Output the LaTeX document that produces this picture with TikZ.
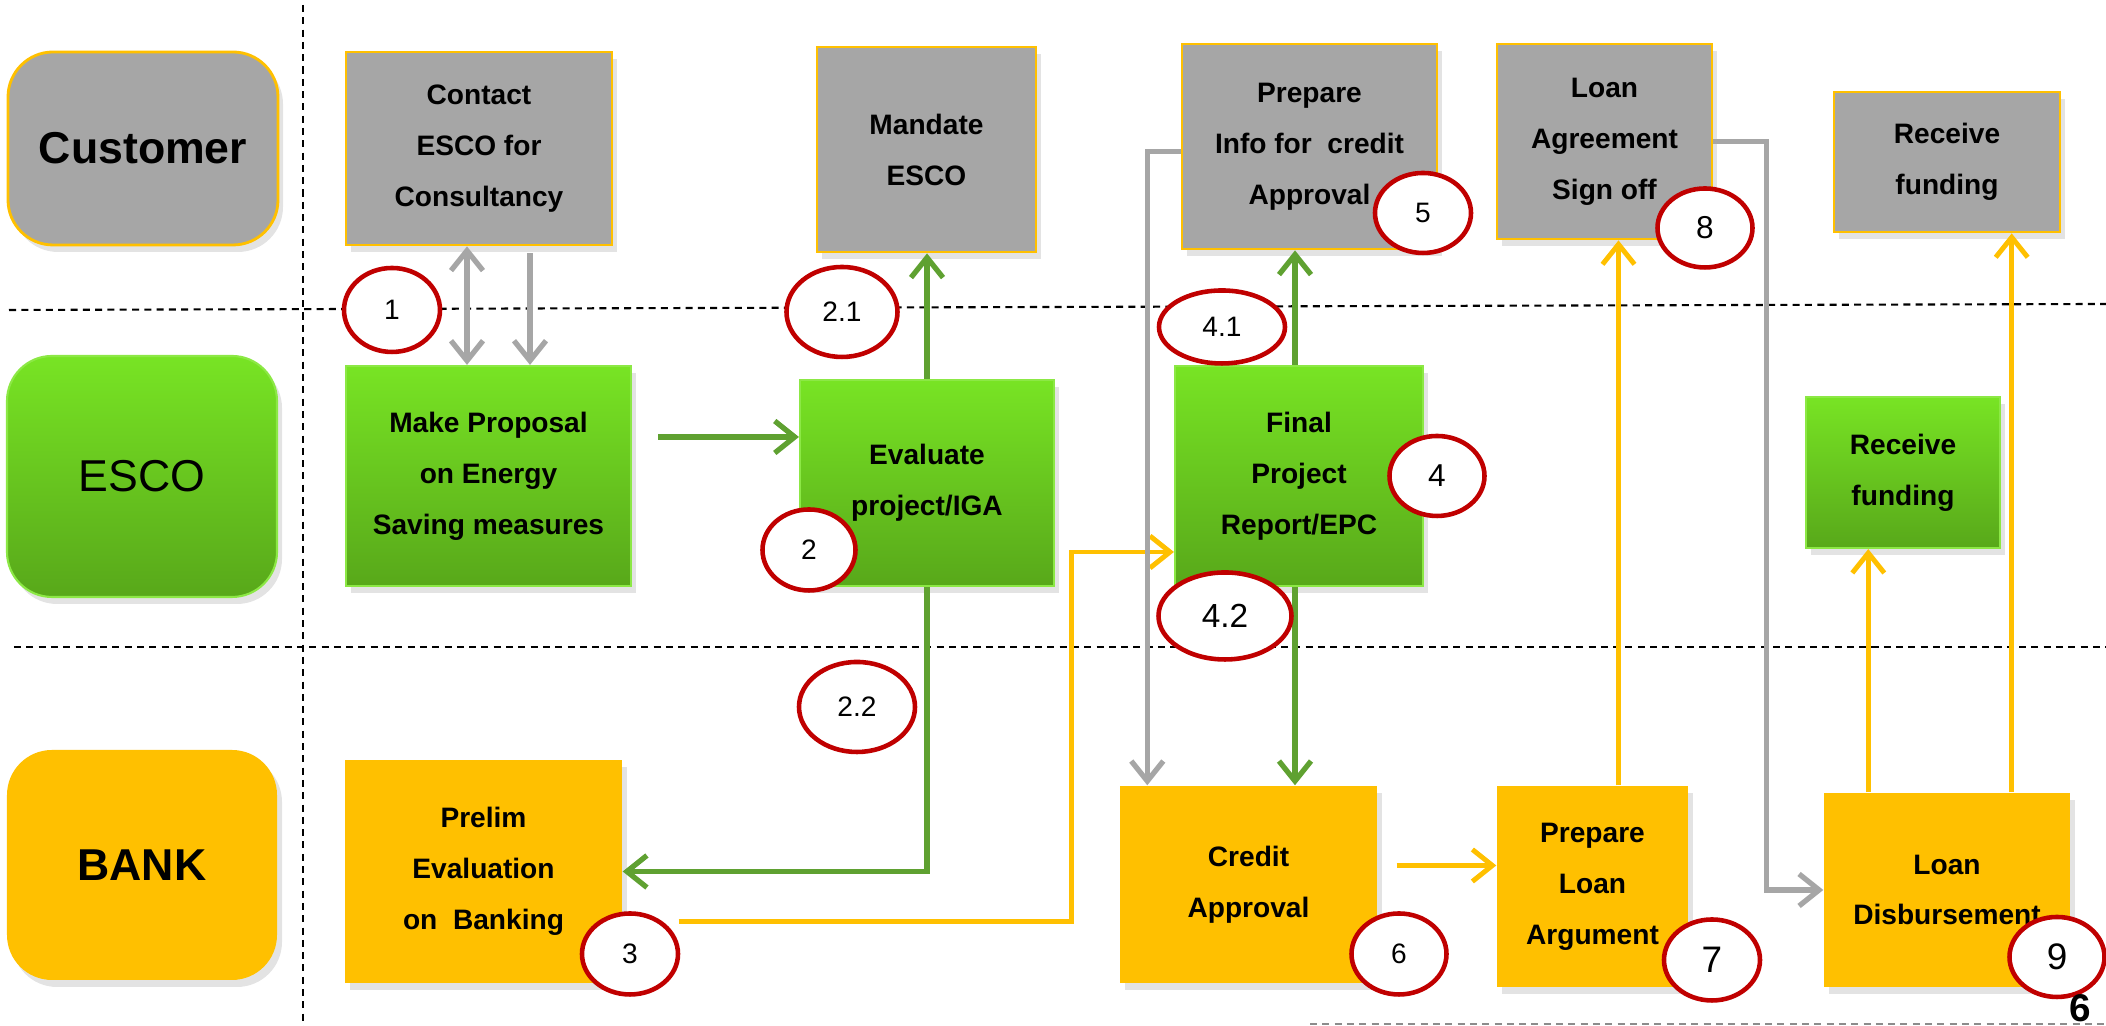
\documentclass[tikz,border=0pt]{standalone}
\usepackage{fontspec}
\setmainfont{Liberation Sans}
\usepackage{xcolor}
\usepackage{tikz}
\usetikzlibrary{positioning,shapes,arrows.meta,calc,shadows}

\definecolor{custgray}{HTML}{A6A6A6}
\definecolor{bankyellow}{HTML}{FFC000}
\definecolor{escotop}{HTML}{78E424}
\definecolor{escobot}{HTML}{58A81A}
\definecolor{escoline}{HTML}{5FA131}
\definecolor{stepred}{HTML}{C00000}

\begin{document}
\begin{tikzpicture}[
    >={Straight Barb[length=2mm,width=3.2mm]},
    procbox/.style={rectangle, inner sep=0pt, align=center,
        font=\fontsize{8}{14.5}\selectfont\bfseries,
        drop shadow={shadow xshift=0.5mm, shadow yshift=-0.7mm, opacity=0.22}},
    custbox/.style={procbox, fill=custgray, draw=bankyellow, line width=0.8pt},
    escobox/.style={procbox, top color=escotop, bottom color=escobot, draw=escotop!85!white, line width=0.6pt},
    bankbox/.style={procbox, fill=bankyellow},
    lanebox/.style={rectangle, rounded corners=0.45cm, minimum width=2.7cm, inner sep=0pt,
        font=\fontsize{12.7}{15}\selectfont,
        drop shadow={shadow xshift=0.5mm, shadow yshift=-0.7mm, opacity=0.22}},
    stepnum/.style={ellipse, draw=stepred, line width=1.3pt, fill=white, inner sep=0pt,
        minimum width=0.96cm, minimum height=0.81cm, font=\fontsize{8}{10}\selectfont},
    laneline/.style={dash pattern=on 2pt off 1.5pt, line width=0.6pt},
    grarrow/.style={->, custgray, line width=1.5pt},
    garrow/.style={->, escoline, line width=1.5pt},
    yarrow/.style={->, bankyellow, line width=1.4pt}
]
    \useasboundingbox (0,0) rectangle (21.06,10.26);

    % swim lanes
    \draw[laneline] (3.03,10.21) -- (3.03,0);
    \draw[laneline] (0.09,7.16) -- (21.06,7.22);
    \draw[laneline] (0.14,3.79) -- (21.06,3.79);
    \draw[laneline, black!45] (13.1,0.02) -- (21.06,0.02);

    \node[lanebox, fill=custgray, draw=bankyellow, line width=0.8pt, minimum height=1.93cm, font=\fontsize{12.7}{15}\selectfont\bfseries] (cust) at (1.43,8.775) {Customer};
    \node[lanebox, top color=escotop, bottom color=escobot, draw=escotop!85!white, line width=0.6pt, minimum height=2.41cm] (esco) at (1.42,5.495) {ESCO};
    \node[lanebox, fill=bankyellow, minimum height=2.30cm, font=\fontsize{12.7}{15}\selectfont\bfseries] (bank) at (1.42,1.61) {BANK};

    % customer steps
    \node[custbox, minimum width=2.66cm, minimum height=1.93cm] (contact) at (4.79,8.775) {Contact\\ESCO for\\Consultancy};
    \node[custbox, minimum width=2.19cm, minimum height=2.05cm] (mandate) at (9.265,8.765) {Mandate\\ESCO};
    \node[custbox, minimum width=2.55cm, minimum height=2.05cm] (infocredit) at (13.095,8.795) {Prepare\\Info for~~credit\\Approval};
    \node[custbox, minimum width=2.15cm, minimum height=1.95cm] (loanagree) at (16.045,8.845) {Loan\\Agreement\\Sign off};
    \node[custbox, minimum width=2.26cm, minimum height=1.40cm] (recvcust) at (19.47,8.64) {Receive\\funding};

    % esco steps
    \node[escobox, minimum width=2.85cm, minimum height=2.20cm] (proposal) at (4.885,5.50) {Make Proposal\\on Energy\\Saving measures};
    \node[escobox, minimum width=2.54cm, minimum height=2.06cm] (evaluate) at (9.27,5.43) {Evaluate\\project/IGA};
    \node[escobox, minimum width=2.48cm, minimum height=2.20cm] (final) at (12.99,5.50) {Final\\Project\\Report/EPC};
    \node[escobox, minimum width=1.94cm, minimum height=1.51cm] (recvesco) at (19.03,5.535) {Receive\\funding};

    % bank steps
    \node[bankbox, minimum width=2.77cm, minimum height=2.23cm] (prelim) at (4.835,1.545) {Prelim\\Evaluation\\on~~Banking};
    \node[bankbox, minimum width=2.57cm, minimum height=1.97cm] (credit) at (12.485,1.415) {Credit\\Approval};
    \node[bankbox, minimum width=1.91cm, minimum height=2.01cm] (preploan) at (15.925,1.395) {Prepare\\Loan\\Argument};
    \node[bankbox, minimum width=2.46cm, minimum height=1.94cm] (disburse) at (19.47,1.36) {Loan\\Disbursement};

    % flows
    \draw[grarrow, <->] ([xshift=-1.2mm]contact.south) -- ([xshift=-1.2mm]contact.south |- proposal.north);
    \draw[grarrow, shorten <=0.7mm] ([xshift=5.1mm]contact.south) -- ([xshift=5.1mm]contact.south |- proposal.north);
    \draw[garrow, shorten <=2.6mm] ([yshift=3.9mm]proposal.east) -- ([yshift=3.9mm]proposal.east -| evaluate.west);
    \draw[garrow] (evaluate.north) -- (evaluate.north |- mandate.south);
    \draw[garrow] (evaluate.south) |- (prelim.east);
    \draw[yarrow, shorten <=5.6mm] ([yshift=-5mm]prelim.east) -| ([xshift=-10.2mm,yshift=-7.6mm]final.west) -- ([yshift=-7.6mm]final.west);
    \draw[garrow] ([xshift=-0.4mm]final.north) -- ([xshift=-0.4mm]final.north |- infocredit.south);
    \draw[garrow] ([xshift=-0.4mm]final.south) -- ([xshift=-0.4mm]final.south |- credit.north);
    \draw[grarrow] ([yshift=-0.5mm]infocredit.west) -| ([xshift=2.8mm]credit.north west);
    \draw[yarrow, shorten <=1.9mm] ([yshift=1.9mm]credit.east) -- ([yshift=1.9mm]credit.east -| preploan.west);
    \draw[yarrow] ([xshift=2.6mm]preploan.north) -- ([xshift=2.6mm]preploan.north |- loanagree.south);
    \draw[grarrow] (loanagree.east) -| ([xshift=-5.7mm]disburse.west) -- (disburse.west);
    \draw[yarrow] ([xshift=4.5mm]disburse.north west) -- ([xshift=4.5mm]disburse.north west |- recvesco.south);
    \draw[yarrow] ([xshift=-5.9mm]disburse.north east) -- ([xshift=-5.9mm]disburse.north east |- recvcust.south);

    % step numbers
    \node[stepnum, minimum height=0.84cm] (n1) at (3.92,7.16) {1};
    \node[stepnum, minimum width=1.11cm, minimum height=0.90cm] (n21) at (8.42,7.14) {2.1};
    \node[stepnum, minimum width=0.93cm] (n2) at (8.09,4.76) {2};
    \node[stepnum, minimum width=1.16cm, minimum height=0.90cm] (n22) at (8.57,3.19) {2.2};
    \node[stepnum] (n3) at (6.30,0.72) {3};
    \node[stepnum, minimum width=1.26cm, minimum height=0.73cm] (n41) at (12.22,6.99) {4.1};
    \node[stepnum, minimum width=1.33cm, minimum height=0.87cm, font=\fontsize{9.5}{11}\selectfont] (n42) at (12.25,4.10) {4.2};
    \node[stepnum, minimum width=0.95cm, minimum height=0.80cm, font=\fontsize{9}{11}\selectfont] (n4) at (14.37,5.50) {4};
    \node[stepnum, minimum height=0.80cm] (n5) at (14.23,8.13) {5};
    \node[stepnum, minimum width=0.95cm] (n6) at (13.99,0.72) {6};
    \node[stepnum, font=\fontsize{10.5}{12}\selectfont] (n7) at (17.12,0.66) {7};
    \node[stepnum, minimum width=0.95cm, minimum height=0.79cm, font=\fontsize{9}{11}\selectfont] (n8) at (17.05,7.98) {8};
    \node[stepnum, minimum width=0.95cm, minimum height=0.80cm, font=\fontsize{10.5}{12}\selectfont] (n9) at (20.57,0.69) {9};

    \node[anchor=base, inner sep=0pt, font=\fontsize{11}{13}\selectfont\bfseries] (page) at (20.80,0.04) {6};
\end{tikzpicture}
\end{document}
